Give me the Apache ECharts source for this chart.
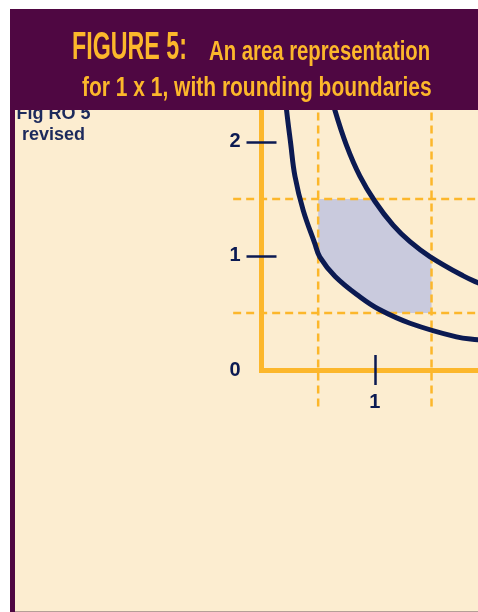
<!DOCTYPE html>
<html>
<head>
<meta charset="utf-8">
<script src="https://cdn.jsdelivr.net/npm/echarts@6/dist/echarts.min.js"></script>
<style>
  html, body { margin: 0; padding: 0; background: #fff; }
  #chart { width: 478px; height: 612px; }
</style>
</head>
<body>
<div id="chart"></div>
<script>
// values
const xTickValues = [1]
const xLabelValues = [1]
const yTickValues = [1, 2]
const yLabelValues = [0, 1, 2]
const roundingBounds = [0.5, 1.5]

// lower rounding boundary
const innerCurve = [
  [0.200, 2.50], [0.221, 2.28], [0.257, 1.99], [0.295, 1.70], [0.368, 1.40],
  [0.470, 1.11], [0.515, 0.99], [0.650, 0.82], [0.870, 0.64], [1.040, 0.53],
  [1.310, 0.41], [1.720, 0.29], [1.910, 0.265], [2.000, 0.255]
]
// upper rounding boundary
const outerCurve = [
  [0.600, 2.47], [0.647, 2.28], [0.750, 1.97], [0.868, 1.70], [1.000, 1.48],
  [1.161, 1.27], [1.310, 1.125], [1.485, 0.995], [1.780, 0.825], [1.910, 0.765],
  [2.000, 0.73]
]
// shaded region: square 0.5..1.5 cut by the two curves
const shadedArea = [
  [0.50, 1.50], [0.99, 1.50], [1.161, 1.27], [1.31, 1.125], [1.50, 0.985],
  [1.50, 0.50], [1.08, 0.50], [1.04, 0.53], [0.87, 0.64], [0.65, 0.82],
  [0.50, 1.02]
]

const NAVY = '#0b1a52'
const ORANGE = '#fcb72b'
const PURPLE = '#4f0742'
const CREAM = '#fcedd0'
const FONT = "'Liberation Sans', Arial, sans-serif"

const chart = echarts.init(document.getElementById('chart'))

const dashStyle = { stroke: ORANGE, lineWidth: 2.5, lineDash: [8, 5] }

const axisLabelStyle = { fontSize: 20, fontWeight: 'bold', color: NAVY, fontFamily: FONT }
const tickStyle = { color: NAVY, width: 2.5 }
const axisLineStyle = { show: true, lineStyle: { color: ORANGE, width: 5, cap: 'square' } }

chart.setOption({
  animation: false,
  backgroundColor: '#fff',
  grid: { left: 261.5, right: 0, top: 110, bottom: 242 },
  xAxis: [
    {
      type: 'value', min: 0, max: 1.91, position: 'bottom',
      axisLine: axisLineStyle,
      axisTick: { show: true, customValues: xTickValues, length: 15, lineStyle: tickStyle },
      axisLabel: Object.assign({ customValues: xLabelValues, margin: 22 }, axisLabelStyle),
      splitLine: { show: false }
    },
    {
      type: 'value', min: 0, max: 1.91, position: 'bottom',
      axisLine: { show: false },
      axisTick: { show: true, inside: true, customValues: xTickValues, length: 15, lineStyle: tickStyle },
      axisLabel: { show: false },
      splitLine: { show: false }
    }
  ],
  yAxis: [
    {
      type: 'value', min: 0, max: 2.28, position: 'left', offset: 2,
      axisLine: axisLineStyle,
      axisTick: { show: true, customValues: yTickValues, length: 15, lineStyle: tickStyle },
      axisLabel: Object.assign({ customValues: yLabelValues, margin: 19, padding: [3, 0, 0, 0] }, axisLabelStyle),
      splitLine: { show: false }
    },
    {
      type: 'value', min: 0, max: 2.28, position: 'left', offset: 2,
      axisLine: { show: false },
      axisTick: { show: true, inside: true, customValues: yTickValues, length: 15, lineStyle: tickStyle },
      axisLabel: { show: false },
      splitLine: { show: false }
    }
  ],
  series: [
    {
      type: 'custom',
      data: shadedArea,
      silent: true,
      z: 1,
      renderItem: (params, api) => {
        if (params.dataIndex !== 0) return
        return {
          type: 'polygon',
          shape: { points: shadedArea.map(p => api.coord(p)) },
          style: { fill: '#c9cadd' }
        }
      }
    },
    {
      // dashed rounding boundaries, running past the axes
      type: 'custom',
      data: roundingBounds,
      silent: true,
      clip: false,
      z: 3,
      renderItem: (params, api) => {
        const b = api.value(0)
        const v0 = api.coord([b, -0.32])
        const v1 = api.coord([b, 2.4])
        const h0 = api.coord([-0.25, b])
        const h1 = api.coord([2.1, b])
        return {
          type: 'group',
          children: [
            { type: 'line', shape: { x1: v0[0], y1: v0[1], x2: v1[0], y2: v1[1] }, style: dashStyle },
            { type: 'line', shape: { x1: h0[0], y1: h0[1], x2: h1[0], y2: h1[1] }, style: dashStyle }
          ]
        }
      }
    },
    {
      type: 'line', data: innerCurve, smooth: 0.4, symbol: 'none', z: 4,
      lineStyle: { color: NAVY, width: 5 }
    },
    {
      type: 'line', data: outerCurve, smooth: 0.4, symbol: 'none', z: 4,
      lineStyle: { color: NAVY, width: 5 }
    }
  ],
  graphic: [
    { type: 'rect', z: -10, shape: { x: 10, y: 9, width: 468, height: 603 }, style: { fill: PURPLE } },
    { type: 'rect', z: -9, shape: { x: 15, y: 110, width: 463, height: 501 }, style: { fill: CREAM } },
    { type: 'rect', z: -9, shape: { x: 15, y: 611, width: 463, height: 1 }, style: { fill: '#b59f97' } },
    {
      type: 'text', z: -8, x: 53.5, y: 114.5,
      style: { text: 'Fig RO 5', fill: '#1c2a5c', font: 'bold 18px ' + FONT, textAlign: 'center', textVerticalAlign: 'middle' }
    },
    {
      type: 'text', z: -8, x: 53.5, y: 135.5,
      style: { text: 'revised', fill: '#1c2a5c', font: 'bold 18px ' + FONT, textAlign: 'center', textVerticalAlign: 'middle' }
    },
    { type: 'rect', z: 100, shape: { x: 10, y: 9, width: 468, height: 101 }, style: { fill: PURPLE } },
    {
      type: 'text', z: 101, x: 72, y: 49, scaleX: 0.612,
      style: { text: 'FIGURE 5:', fill: ORANGE, font: 'bold 38px ' + FONT, textAlign: 'left', textVerticalAlign: 'middle' }
    },
    {
      type: 'text', z: 101, x: 209, y: 52.5, scaleX: 0.752,
      style: { text: 'An area representation', fill: ORANGE, font: 'bold 27px ' + FONT, textAlign: 'left', textVerticalAlign: 'middle' }
    },
    {
      type: 'text', z: 101, x: 82, y: 89, scaleX: 0.777,
      style: { text: 'for 1 x 1, with rounding boundaries', fill: ORANGE, font: 'bold 27px ' + FONT, textAlign: 'left', textVerticalAlign: 'middle' }
    }
  ]
})
</script>
</body>
</html>
